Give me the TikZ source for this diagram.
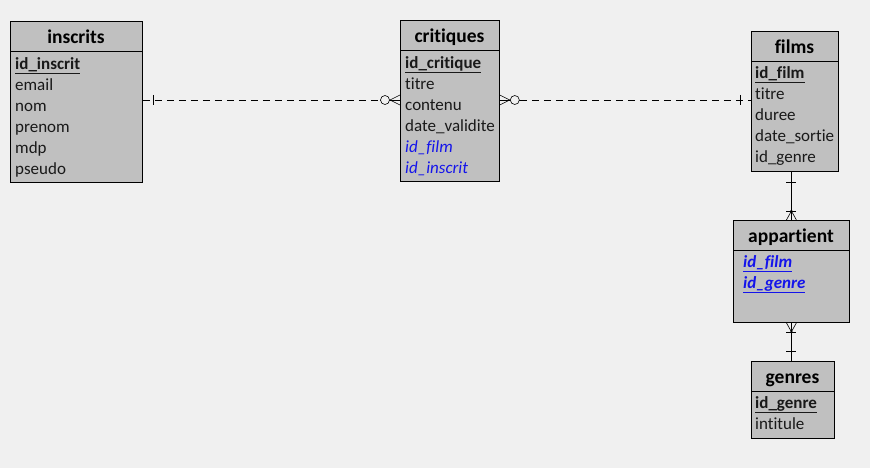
\documentclass[tikz,border=0pt]{standalone}
\usepackage{fontspec}
\setmainfont{Carlito}[Ligatures={NoCommon}]
\usetikzlibrary{calc}
\definecolor{bg}{HTML}{F0F0F0}
\definecolor{boxfill}{HTML}{C0C0C0}
\definecolor{fkblue}{RGB}{20,20,235}
\tikzset{
  tbl/.style={draw=black, fill=boxfill, line width=0.8pt, anchor=north west, inner sep=0pt},
  hdr/.style={font=\bfseries\fontsize{19.5}{22}\selectfont, anchor=mid, yshift=-3pt},
  row/.style={font=\fontsize{17}{19}\selectfont, anchor=mid west, inner sep=0pt, text=black!90, yshift=-2pt},
  pk/.style={row, font=\bfseries\fontsize{17}{19}\selectfont},
  fk/.style={row, text=fkblue, font=\itshape\fontsize{17}{19}\selectfont},
  pfk/.style={row, text=fkblue, font=\bfseries\itshape\fontsize{17}{19}\selectfont},
  rel/.style={line width=0.6pt, black},
  reld/.style={rel, dash pattern=on 7pt off 5pt},
}
\begin{document}
\begin{tikzpicture}[x=1pt,y=-1pt]
\fill[bg] (0,0) rectangle (870,468);
\useasboundingbox (0,0) rectangle (870,468);

% inscrits
\node[tbl, minimum width=132pt, minimum height=161pt] (inscrits) at (10,21) {};
\draw[line width=0.8pt] (10,51) -- (142,51);
\node[hdr] (inscritsH) at (76,38.5) {inscrits};
\node[pk] (i1) at (15,65) {\underline{id\_inscrit}};
\node[row] (i2) at (15,86) {email};
\node[row] (i3) at (15,107) {nom};
\node[row] (i4) at (15,128) {prenom};
\node[row] (i5) at (15,149) {mdp};
\node[row] (i6) at (15,170) {pseudo};

% critiques
\node[tbl, minimum width=99pt, minimum height=161pt] (critiques) at (400,20) {};
\draw[line width=0.8pt] (400,50) -- (499,50);
\node[hdr] (critiquesH) at (449.5,37.5) {critiques};
\node[pk] (c1) at (405,64) {\underline{id\_critique}};
\node[row] (c2) at (405,85) {titre};
\node[row] (c3) at (405,106) {contenu};
\node[row] (c4) at (405,127) {date\_validite};
\node[fk] (c5) at (405,148) {id\_film};
\node[fk] (c6) at (405,169) {id\_inscrit};

% films
\node[tbl, minimum width=87pt, minimum height=140pt] (films) at (751,31) {};
\draw[line width=0.8pt] (751,61) -- (838,61);
\node[hdr] (filmsH) at (794.5,48.5) {films};
\node[pk] (f1) at (755,74) {\underline{id\_film}};
\node[row] (f2) at (755,95) {titre};
\node[row] (f3) at (755,116) {duree};
\node[row] (f4) at (755,137) {date\_sortie};
\node[row] (f5) at (755,158) {id\_genre};

% appartient
\node[tbl, minimum width=116pt, minimum height=102pt] (appartient) at (733,220) {};
\draw[line width=0.8pt] (733,250) -- (849,250);
\node[hdr] (appartientH) at (791,237.5) {appartient};
\node[pfk] (a1) at (743,263) {\underline{id\_film}};
\node[pfk] (a2) at (743,284) {\underline{id\_genre}};

% genres
\node[tbl, minimum width=83pt, minimum height=77pt] (genres) at (751,361) {};
\draw[line width=0.8pt] (751,391) -- (834,391);
\node[hdr] (genresH) at (792.5,378.5) {genres};
\node[pk] (g1) at (755,404) {\underline{id\_genre}};
\node[row] (g2) at (755,425) {intitule};

% inscrits -- critiques
\coordinate (L1a) at (inscrits.east |- 0,100);
\coordinate (L1b) at (critiques.west |- 0,100);
\draw[reld] (L1a) -- ($(L1b)+(-20,0)$);
\draw[rel] ($(L1a)+(10,-5)$) -- ++(0,10);
\draw[rel] ($(L1b)+(-20,0)$) -- ($(L1b)+(-10,0)$);
\draw[rel, fill=bg] ($(L1b)+(-15,0)$) circle (4.5pt);
\draw[rel] ($(L1b)+(-10,0)$) -- ($(L1b)+(0,-5)$);
\draw[rel] ($(L1b)+(-10,0)$) -- (L1b);
\draw[rel] ($(L1b)+(-10,0)$) -- ($(L1b)+(0,5)$);

% critiques -- films
\coordinate (L2a) at (critiques.east |- 0,100);
\coordinate (L2b) at (films.west |- 0,100);
\draw[reld] ($(L2a)+(20,0)$) -- (L2b);
\draw[rel] (L2a) -- ($(L2a)+(20,0)$);
\draw[rel, fill=bg] ($(L2a)+(15,0)$) circle (4.5pt);
\draw[rel] ($(L2a)+(10,0)$) -- ($(L2a)+(0,-5)$);
\draw[rel] ($(L2a)+(10,0)$) -- (L2a);
\draw[rel] ($(L2a)+(10,0)$) -- ($(L2a)+(0,5)$);
\draw[rel] ($(L2b)+(-11,-5)$) -- ++(0,10);

% films -- appartient
\coordinate (L3a) at (appartient.north |- films.south);
\draw[rel] (L3a) -- (appartient.north);
\draw[rel] ($(L3a)+(-5,10)$) -- ++(10,0);
\draw[rel] ($(appartient.north)+(-5,-9)$) -- ++(10,0);
\draw[rel] ($(appartient.north)+(0,-9)$) -- ($(appartient.north)+(-5,0)$);
\draw[rel] ($(appartient.north)+(0,-9)$) -- ($(appartient.north)+(5,0)$);
\fill ($(appartient.north)+(0,-9)$) circle (1.2pt);

% appartient -- genres
\coordinate (L4b) at (appartient.south |- genres.north);
\draw[rel] (appartient.south) -- (L4b);
\draw[rel] ($(appartient.south)+(-5,9)$) -- ++(10,0);
\draw[rel] ($(appartient.south)+(0,9)$) -- ($(appartient.south)+(-5,0)$);
\draw[rel] ($(appartient.south)+(0,9)$) -- ($(appartient.south)+(5,0)$);
\fill ($(appartient.south)+(0,9)$) circle (1.2pt);
\draw[rel] ($(L4b)+(-5,-10)$) -- ++(10,0);
\end{tikzpicture}
\end{document}
